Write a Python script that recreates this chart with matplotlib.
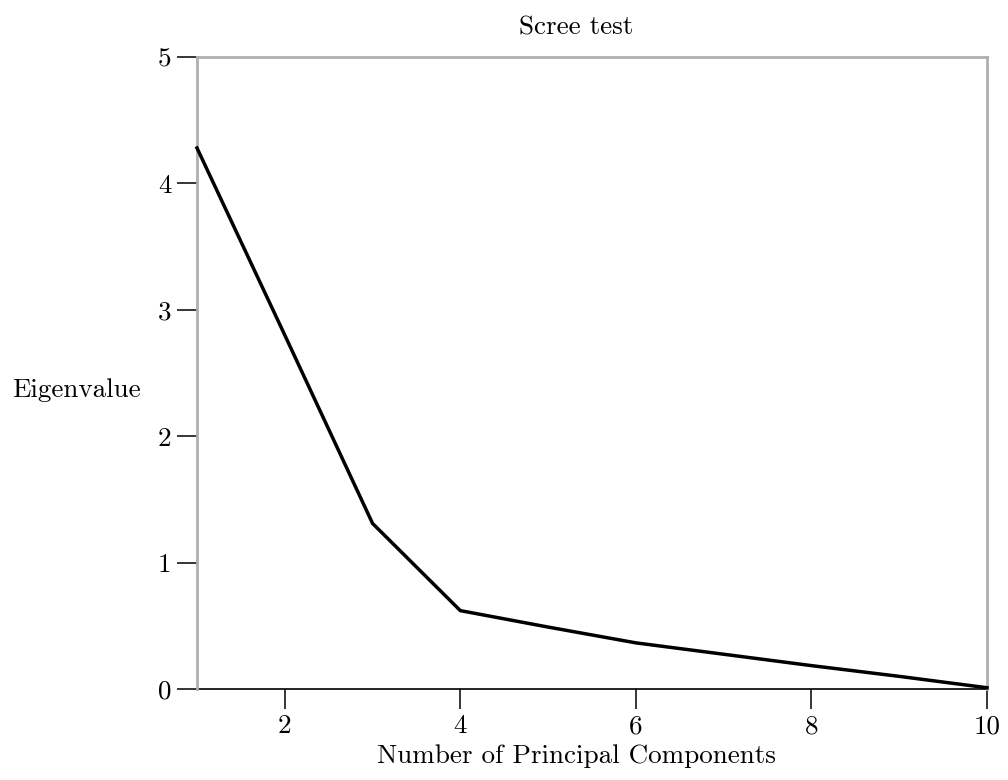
import matplotlib
matplotlib.use("Agg")
import matplotlib.pyplot as plt

components = [1, 2, 3, 4, 5, 6, 7, 8, 9, 10]
eigenvalues = [4.28, 2.80, 1.31, 0.62, 0.49, 0.365, 0.275, 0.185, 0.10, 0.01]
x_ticks = [2, 4, 6, 8, 10]
y_ticks = [0, 1, 2, 3, 4, 5]

plt.rcParams['font.family'] = ['cmr10', 'DejaVu Serif']
plt.rcParams['axes.formatter.use_mathtext'] = True
FS = 19.5

fig = plt.figure(figsize=(10.08, 7.8), dpi=100)
ax = fig.add_axes([197/1008, 1-689/780, (987-197)/1008, (689-57)/780])

ax.plot(components, eigenvalues, color='black', lw=2.5, solid_joinstyle='miter', clip_on=False, zorder=3)
ax.set_xlim(1, 10)
ax.set_ylim(0, 5)
ax.set_xticks(x_ticks)
ax.set_yticks(y_ticks)
ax.set_xticklabels([str(t) for t in x_ticks])
ax.set_yticklabels([str(t) for t in y_ticks])

for s in ['left', 'right', 'top']:
    ax.spines[s].set_color('#b0b0b0')
    ax.spines[s].set_linewidth(2)
ax.spines['bottom'].set_color('black')
ax.spines['bottom'].set_linewidth(1.2)
ax.spines['bottom'].set_zorder(2)

ax.tick_params(axis='both', direction='out', length=14.5, width=1.1, color='black',
               labelsize=FS, pad=4)

ax.set_title('Scree test', fontsize=FS, pad=16, x=0.48)
ax.set_xlabel('Number of Principal Components', fontsize=FS, labelpad=4, x=0.48)
ax.set_ylabel('Eigenvalue', fontsize=FS, rotation=0, ha='left', va='center')
ax.yaxis.set_label_coords(-185/790, (689-390)/632)

fig.savefig('out.png', dpi=100)
